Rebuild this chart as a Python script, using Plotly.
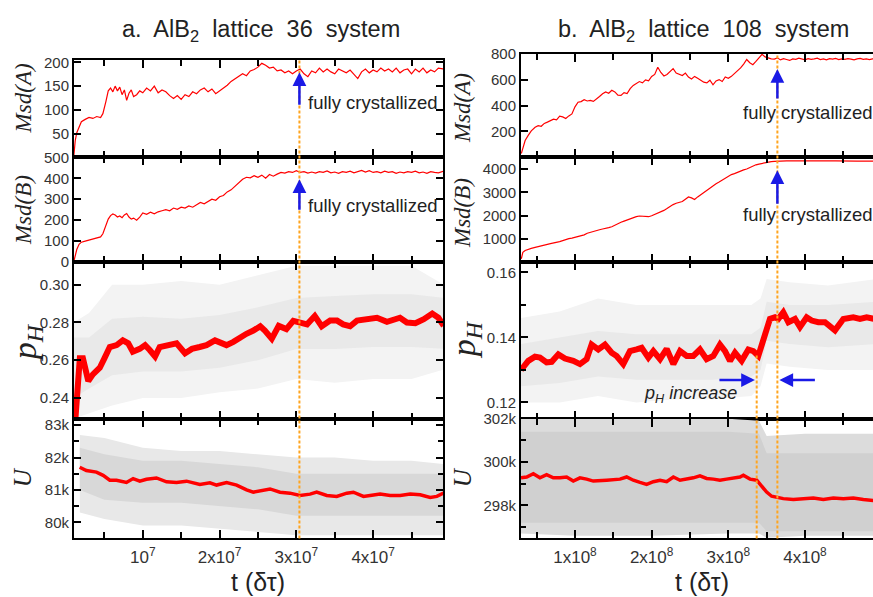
import plotly.graph_objects as go

W, H = 873, 597
SA = 1e7   # time unit of panel a
SB = 1e8   # time unit of panel b
KU = 1e3   # energies in k

# ---------------- panel a : AlB2 lattice 36 system ----------------
t_msd_a = [0.10,0.12,0.14,0.17,0.20,0.25,0.30,0.35,0.40,0.45,
           0.48,0.52,0.55,0.58,0.61,0.64,0.67,0.70,0.73,0.76,
           0.79,0.82,0.85,0.88,0.92,0.96,1.00,1.05,1.10,1.15,
           1.20,1.25,1.30,1.35,1.40,1.45,1.50,1.55,1.60,1.65,
           1.70,1.75,1.80,1.85,1.90,1.95,2.00,2.05,2.10,2.15,
           2.20,2.25,2.30,2.35,2.40,2.45,2.50,2.55,2.60,2.65,
           2.70,2.75,2.80,2.85,2.90,2.95,3.00,3.05,3.10,3.15,
           3.20,3.25,3.30,3.35,3.40,3.45,3.50,3.55,3.60,3.65,
           3.70,3.75,3.80,3.85,3.90,3.95,4.00,4.05,4.10,4.15,
           4.20,4.25,4.30,4.35,4.40,4.45,4.50,4.55,4.60,4.65,
           4.70,4.75,4.80,4.85,4.92]
msdA_a = [0,35,52,65,75,80,84,82,86,84,
          92,118,140,146,138,150,140,148,132,142,
          120,135,142,128,132,140,136,146,140,150,
          136,142,138,130,124,130,122,132,128,138,
          134,142,146,138,144,134,140,146,152,160,
          165,170,176,172,182,185,190,198,194,188,
          190,182,184,178,182,176,182,186,176,170,
          182,178,188,180,186,180,176,186,182,178,
          184,176,166,180,186,178,184,180,188,182,
          186,180,188,178,184,186,176,186,180,188,
          178,184,180,188,186]
msdB_a = [0,30,60,85,95,100,105,110,115,120,
          135,180,205,222,230,225,215,220,212,225,
          232,215,205,210,200,215,235,228,238,230,
          240,245,250,245,258,252,262,258,268,262,
          272,285,278,290,300,295,312,318,335,345,
          362,380,395,405,402,412,405,415,400,418,
          410,420,428,425,432,428,436,428,432,425,
          430,425,432,428,435,426,430,424,432,428,
          434,426,432,438,430,436,428,432,426,434,
          428,432,424,430,426,432,428,434,426,430,
          424,432,428,426,434]

t_ph_a = [0.11,0.18,0.22,0.29,0.35,0.44,0.50,0.57,0.66,0.74,
          0.81,0.87,0.96,1.03,1.09,1.16,1.22,1.31,1.44,1.55,
          1.64,1.74,1.83,1.94,2.00,2.09,2.18,2.27,2.35,2.44,
          2.53,2.59,2.68,2.77,2.87,2.96,3.05,3.14,3.24,3.33,
          3.44,3.53,3.61,3.70,3.79,3.92,4.05,4.18,4.35,4.44,
          4.55,4.66,4.77,4.85,4.92]
ph_a = [0.222,0.261,0.261,0.249,0.2525,0.256,0.261,0.267,0.268,0.2705,
        0.269,0.2645,0.266,0.268,0.2654,0.262,0.267,0.268,0.269,0.2637,
        0.266,0.267,0.268,0.2705,0.2697,0.268,0.2697,0.2722,0.274,0.2757,
        0.278,0.2757,0.2714,0.2782,0.2765,0.2809,0.2803,0.279,0.2834,0.278,
        0.281,0.281,0.279,0.278,0.281,0.2817,0.2825,0.2803,0.2825,0.280,
        0.2796,0.2817,0.2847,0.2825,0.2782]
t_phband_a = [0.10,0.30,0.60,1.00,1.50,2.00,2.50,3.00,3.50,4.00,4.50,4.92]
ph_a_out_hi = [0.280,0.285,0.300,0.300,0.302,0.300,0.305,0.310,0.310,0.310,0.310,0.300]
ph_a_out_lo = [0.229,0.232,0.236,0.240,0.240,0.243,0.245,0.250,0.248,0.250,0.250,0.255]
ph_a_in_hi = [0.272,0.272,0.282,0.283,0.282,0.284,0.288,0.293,0.294,0.295,0.295,0.293]
ph_a_in_lo = [0.240,0.245,0.252,0.254,0.254,0.256,0.260,0.266,0.266,0.267,0.267,0.266]

t_u_a = [0.178,0.265,0.396,0.483,0.570,0.657,0.787,0.874,0.961,1.048,
         1.178,1.309,1.439,1.570,1.743,1.874,1.961,2.091,2.222,2.352,
         2.439,2.570,2.657,2.787,2.917,3.048,3.178,3.265,3.396,3.526,
         3.657,3.743,3.874,3.961,4.091,4.222,4.352,4.483,4.613,4.743,
         4.830,4.917]
u_a = [81.70,81.60,81.55,81.45,81.30,81.30,81.23,81.35,81.27,81.33,
       81.37,81.25,81.23,81.27,81.17,81.22,81.15,81.23,81.15,81.00,
       80.93,81.00,81.03,80.93,80.90,80.83,80.87,80.93,80.83,80.80,
       80.90,80.93,80.80,80.83,80.87,80.83,80.83,80.87,80.85,80.77,
       80.80,80.90]
t_uband_a = [0.18,0.50,1.00,1.50,2.00,2.50,3.00,3.50,4.00,4.50,4.92]
u_a_out_hi = [82.7,82.6,82.3,82.2,82.2,82.1,82.0,82.0,81.9,81.9,81.8]
u_a_out_lo = [80.3,80.1,79.9,79.9,79.8,79.7,79.6,79.6,79.6,79.6,79.6]
u_a_in_hi = [82.3,82.1,81.9,81.9,81.8,81.7,81.5,81.5,81.5,81.5,81.5]
u_a_in_lo = [81.0,80.7,80.6,80.6,80.5,80.4,80.2,80.2,80.2,80.2,80.2]

t_cryst_a = 3.04

# ---------------- panel b : AlB2 lattice 108 system ----------------
t_msd_b = [0.30,0.32,0.35,0.39,0.43,0.48,0.52,0.56,0.60,0.64,
           0.68,0.72,0.76,0.80,0.84,0.88,0.92,0.96,1.00,1.04,
           1.08,1.12,1.16,1.20,1.24,1.28,1.32,1.36,1.40,1.44,
           1.48,1.52,1.56,1.60,1.64,1.68,1.72,1.76,1.80,1.84,
           1.88,1.92,1.96,2.00,2.04,2.08,2.12,2.16,2.20,2.24,
           2.28,2.32,2.36,2.40,2.44,2.48,2.52,2.56,2.60,2.64,
           2.68,2.72,2.76,2.80,2.84,2.88,2.92,2.96,3.00,3.04,
           3.08,3.12,3.16,3.20,3.24,3.28,3.32,3.36,3.40,3.44,
           3.48,3.52,3.56,3.60,3.64,3.68,3.72,3.76,3.80,3.84,
           3.88,3.92,3.96,4.00,4.04,4.08,4.12,4.16,4.20,4.24,
           4.28,4.32,4.36,4.40,4.44,4.48,4.52,4.56,4.60,4.64,
           4.68,4.72,4.76,4.80,4.84,4.88,4.92]
msdA_b = [30,80,130,170,205,232,245,240,262,272,
          285,295,290,318,312,300,320,335,390,425,
          430,445,435,440,432,455,470,490,505,495,
          518,505,480,478,500,492,530,555,570,585,
          575,598,590,625,640,695,655,628,640,665,
          685,650,640,632,650,620,605,625,610,598,
          580,575,595,560,590,600,585,620,610,625,
          645,670,690,720,755,730,715,740,770,795,
          775,765,760,758,768,752,762,755,748,760,
          756,765,758,752,762,756,760,765,755,760,
          752,762,758,764,755,760,756,762,758,752,
          760,764,756,760,755,760,758]
msdB_b = [140,420,500,558,590,630,655,690,720,760,
          790,810,850,880,920,970,1005,1030,1060,1100,
          1130,1170,1240,1285,1320,1360,1390,1420,1440,1480,
          1520,1590,1660,1710,1760,1810,1870,1910,1950,1980,
          1975,1960,1950,1990,2040,2090,2140,2220,2300,2400,
          2470,2530,2570,2600,2700,2800,2760,2690,2800,2900,
          3000,3100,3200,3300,3370,3440,3520,3620,3690,3760,
          3800,3860,3910,3960,4000,4070,4140,4180,4210,4240,
          4280,4300,4320,4330,4340,4350,4345,4350,4348,4352,
          4350,4345,4350,4348,4352,4346,4350,4345,4350,4348,
          4345,4350,4346,4350,4345,4348,4344,4346,4342,4345,
          4340,4344,4340,4342,4338,4340,4338]

t_ph_b = [0.296,0.391,0.478,0.543,0.630,0.696,0.783,0.870,0.978,1.065,
          1.152,1.217,1.304,1.391,1.478,1.543,1.630,1.717,1.804,1.870,
          1.957,2.022,2.109,2.196,2.283,2.370,2.457,2.543,2.630,2.717,
          2.804,2.891,2.957,3.022,3.087,3.174,3.261,3.326,3.391,3.457,
          3.543,3.609,3.652,3.717,3.783,3.870,3.935,4.022,4.087,4.174,
          4.261,4.391,4.500,4.630,4.717,4.804,4.887,4.950]
ph_b = [0.1300,0.1328,0.1341,0.1338,0.1323,0.1325,0.1348,0.1335,0.1328,0.1318,
        0.1333,0.1378,0.1363,0.1378,0.1353,0.1343,0.1318,0.1358,0.1363,0.1368,
        0.1338,0.1358,0.1333,0.1365,0.1318,0.1358,0.1343,0.1343,0.1363,0.1333,
        0.1343,0.1378,0.1358,0.1328,0.1353,0.1328,0.1363,0.1358,0.1343,0.1393,
        0.1457,0.1462,0.1457,0.1477,0.1447,0.1457,0.1432,0.1462,0.1452,0.1447,
        0.1447,0.1422,0.1457,0.1462,0.1457,0.1462,0.1457,0.1455]
t_phband_b = [0.296,0.80,1.30,1.80,2.30,2.80,3.30,3.42,3.50,3.80,4.30,4.95]
ph_b_out_hi = [0.146,0.148,0.152,0.150,0.150,0.150,0.150,0.152,0.158,0.157,0.156,0.158]
ph_b_out_lo = [0.120,0.120,0.122,0.120,0.121,0.121,0.122,0.125,0.132,0.131,0.130,0.130]
ph_b_in_hi = [0.138,0.140,0.142,0.141,0.141,0.141,0.141,0.143,0.151,0.150,0.150,0.151]
ph_b_in_lo = [0.125,0.126,0.128,0.127,0.127,0.127,0.128,0.130,0.139,0.138,0.137,0.138]

t_u_b = [0.296,0.370,0.457,0.543,0.630,0.717,0.804,0.891,0.978,1.065,
         1.152,1.239,1.413,1.587,1.674,1.761,1.848,1.935,2.022,2.109,
         2.196,2.283,2.370,2.457,2.543,2.630,2.717,2.804,2.891,2.978,
         3.065,3.152,3.196,3.283,3.370,3.435,3.500,3.565,3.630,3.717,
         3.848,3.978,4.109,4.239,4.370,4.500,4.630,4.761,4.887,4.950]
u_b = [299.27,299.31,299.46,299.27,299.42,299.27,299.27,299.31,299.12,299.27,
       299.21,299.12,299.16,299.21,299.31,299.16,299.06,298.97,299.09,299.16,
       299.09,299.31,299.16,299.21,299.27,299.36,299.24,299.21,299.16,299.21,
       299.24,299.31,299.39,299.21,299.16,298.87,298.61,298.42,298.37,298.31,
       298.27,298.31,298.34,298.27,298.34,298.31,298.34,298.27,298.22,298.25]
t_uband_b = [0.296,1.00,2.00,3.00,3.40,3.50,4.00,4.95]
u_b_out_hi = [302.0,302.0,302.0,302.0,301.9,301.2,301.3,301.3]
u_b_out_lo = [296.7,296.6,296.6,296.7,296.7,296.5,296.6,296.6]
u_b_in_hi = [301.4,301.4,301.4,301.4,301.3,300.4,300.4,300.4]
u_b_in_lo = [297.2,297.2,297.2,297.2,297.2,296.8,296.8,296.8]

t_cryst_b = 3.64
t_start_b = 3.37

# ---------------- figure ----------------
def py(p):
    return 1 - p / H

fig = go.Figure()
RED = "#ff0000"

def sc(lst, s):
    return [v * s for v in lst]

def band(t, lo, hi, ts, vs, ax, color):
    xs = sc(t, ts) + sc(t, ts)[::-1]
    ys = sc(hi, vs) + sc(lo, vs)[::-1]
    fig.add_trace(go.Scatter(x=xs, y=ys, fill="toself", fillcolor=color,
                             line=dict(width=0), mode="lines", hoverinfo="skip",
                             xaxis="x" + ax, yaxis="y" + ax, showlegend=False))

def line(t, v, ts, vs, ax, width):
    fig.add_trace(go.Scatter(x=sc(t, ts), y=sc(v, vs), mode="lines",
                             line=dict(color=RED, width=width), hoverinfo="skip",
                             xaxis="x" + ax, yaxis="y" + ax, showlegend=False))

# panel a
line(t_msd_a, msdA_a, SA, 1, "", 1.2)
line(t_msd_a, msdB_a, SA, 1, "2", 1.2)
band(t_phband_a, ph_a_out_lo, ph_a_out_hi, SA, 1, "3", "#f3f3f3")
band(t_phband_a, ph_a_in_lo, ph_a_in_hi, SA, 1, "3", "#e9e9e9")
line(t_ph_a, ph_a, SA, 1, "3", 6)
band(t_uband_a, u_a_out_lo, u_a_out_hi, SA, KU, "4", "#e8e8e8")
band(t_uband_a, u_a_in_lo, u_a_in_hi, SA, KU, "4", "#d8d8d8")
line(t_u_a, u_a, SA, KU, "4", 3.5)
# panel b
line(t_msd_b, msdA_b, SB, 1, "5", 1.2)
line(t_msd_b, msdB_b, SB, 1, "6", 1.2)
band(t_phband_b, ph_b_out_lo, ph_b_out_hi, SB, 1, "7", "#f3f3f3")
band(t_phband_b, ph_b_in_lo, ph_b_in_hi, SB, 1, "7", "#e9e9e9")
line(t_ph_b, ph_b, SB, 1, "7", 6)
band(t_uband_b, u_b_out_lo, u_b_out_hi, SB, KU, "8", "#dcdcdc")
band(t_uband_b, u_b_in_lo, u_b_in_hi, SB, KU, "8", "#d0d0d0")
line(t_u_b, u_b, SB, KU, "8", 3.5)

TICKFONT = dict(family="Liberation Sans, Arial, sans-serif", size=15, color="#333333")
XTICKFONT = dict(family="Liberation Sans, Arial, sans-serif", size=17, color="#333333")

left_x = [74 / W, 443 / W]
right_x = [521 / W, 1.0]
rows_l = [(53, 152.7), (152.7, 260.5), (260.5, 421.7), (421.7, 545)]
rows_r = [(46, 152.7), (152.7, 260.5), (260.5, 421.7), (421.7, 545)]

xr_a = [0.104 * SA, 4.91 * SA]
xr_b = [0.296 * SB, 4.887 * SB]
xt_a = dict(vals=[1e7, 2e7, 3e7, 4e7],
            text=["10<sup>7</sup>", "2x10<sup>7</sup>", "3x10<sup>7</sup>", "4x10<sup>7</sup>"],
            minor=[5e6, 1.5e7, 2.5e7, 3.5e7, 4.5e7])
xt_b = dict(vals=[1e8, 2e8, 3e8, 4e8],
            text=["1x10<sup>8</sup>", "2x10<sup>8</sup>", "3x10<sup>8</sup>", "4x10<sup>8</sup>"],
            minor=[0.5e8, 1.5e8, 2.5e8, 3.5e8, 4.5e8])

ycfg = {
    1: dict(r=[0, 204], v=[50, 100, 150, 200], t=["50", "100", "150", "200"], m=[]),
    2: dict(r=[0, 500], v=[0, 100, 200, 300, 400, 500], t=["0", "100", "200", "300", "400", "500"], m=[]),
    3: dict(r=[0.229, 0.312], v=[0.24, 0.26, 0.28, 0.30], t=["0.24", "0.26", "0.28", "0.30"], m=[]),
    4: dict(r=[79500, 83200], v=[80000, 81000, 82000, 83000], t=["80k", "81k", "82k", "83k"],
            m=[80500, 81500, 82500]),
    5: dict(r=[0, 800], v=[200, 400, 600, 800], t=["200", "400", "600", "800"], m=[]),
    6: dict(r=[0, 4500], v=[1000, 2000, 3000, 4000], t=["1000", "2000", "3000", "4000"], m=[]),
    7: dict(r=[0.115, 0.1632], v=[0.12, 0.14, 0.16], t=["0.12", "0.14", "0.16"], m=[0.13, 0.15]),
    8: dict(r=[296470, 302000], v=[298000, 300000, 302000], t=["298k", "300k", "302k"],
            m=[297000, 299000, 301000]),
}

for i in range(1, 9):
    left = i <= 4
    row = (i - 1) % 4
    top, bot = (rows_l if left else rows_r)[row]
    xt = xt_a if left else xt_b
    sfx = "" if i == 1 else str(i)
    xa = dict(domain=left_x if left else right_x, range=xr_a if left else xr_b,
              anchor="y" + sfx, showline=True, linecolor="black", linewidth=2,
              mirror="ticks", ticks="inside", ticklen=8, tickwidth=1.5, tickcolor="black",
              tickmode="array", tickvals=xt["vals"], ticktext=xt["text"],
              showticklabels=(row == 3), tickfont=XTICKFONT, showgrid=False, zeroline=False,
              ticklabelstandoff=2,
              minor=dict(ticks="inside", ticklen=6, tickwidth=1.5, tickcolor="black",
                         tickvals=xt["minor"], showgrid=False))
    yc = ycfg[i]
    ya = dict(domain=[py(bot), py(top)], range=yc["r"], anchor="x" + sfx,
              showline=True, linecolor="black", linewidth=2,
              mirror="ticks" if left else False, ticks="inside", ticklen=7, tickwidth=1.5,
              tickcolor="black", tickmode="array", tickvals=yc["v"], ticktext=yc["t"],
              tickfont=TICKFONT, showgrid=False, zeroline=False)
    if yc["m"]:
        ya["minor"] = dict(ticks="inside", ticklen=5, tickwidth=1.5, tickcolor="black",
                           tickvals=yc["m"], showgrid=False)
    fig.layout["xaxis" + sfx] = xa
    fig.layout["yaxis" + sfx] = ya

# orange "crystallized" markers
ORANGE = "#ffa520"
shapes = [
    dict(type="line", xref="x", yref="paper", x0=t_cryst_a * SA, x1=t_cryst_a * SA,
         y0=py(545), y1=py(53)),
    dict(type="line", xref="x5", yref="paper", x0=t_cryst_b * SB, x1=t_cryst_b * SB,
         y0=py(545), y1=py(46)),
    dict(type="line", xref="x5", yref="paper", x0=t_start_b * SB, x1=t_start_b * SB,
         y0=py(545), y1=py(355)),
]
for s in shapes:
    s.update(line=dict(color=ORANGE, width=2, dash="3px,2px"), layer="above")
fig.update_layout(shapes=shapes)

ann = []
SANS = "Liberation Sans, Arial, sans-serif"
SERIF = "Liberation Serif, Times New Roman, serif"
TXT = "#222222"
ann.append(dict(text="a.&nbsp; AlB<sub>2</sub>&nbsp; lattice&nbsp; 36&nbsp; system",
                x=261 / W, y=py(22), font=dict(family=SANS, size=23.5, color=TXT)))
ann.append(dict(text="b.&nbsp; AlB<sub>2</sub>&nbsp; lattice&nbsp; 108&nbsp; system",
                x=703 / W, y=py(22), font=dict(family=SANS, size=23.5, color=TXT)))
for xc in (258, 702):
    ann.append(dict(text="t (δτ)", x=xc / W, y=py(590),
                    font=dict(family=SANS, size=25, color=TXT)))
# y-axis titles
for xc, yc, txt, sz in [
    (23, 92, "<i>Msd(A)</i>", 23), (23, 207, "<i>Msd(B)</i>", 23),
    (27, 343, "<i>p<sub>H</sub></i>", 34), (22, 482, "<i>U</i>", 25),
    (462, 102, "<i>Msd(A)</i>", 23), (462, 210, "<i>Msd(B)</i>", 23),
    (466, 340, "<i>p<sub>H</sub></i>", 34), (462, 482, "<i>U</i>", 25)]:
    ann.append(dict(text=txt, x=xc / W, y=py(yc), textangle=-90,
                    font=dict(family=SERIF, size=sz, color=TXT)))
# "fully crystallized" labels
for xl, yc in [(306, 96), (306, 202), (741, 107), (741, 212)]:
    ann.append(dict(text="fully crystallized", x=xl / W, y=py(yc), xanchor="left",
                    font=dict(family=SANS, size=18.5, color=TXT)))
ann.append(dict(text="<i>p<sub>H</sub> increase</i>", x=690 / W, y=py(397),
                font=dict(family=SANS, size=18, color=TXT)))
for a in ann:
    a.update(xref="paper", yref="paper", showarrow=False)
    a.setdefault("xanchor", "center")
    a.setdefault("yanchor", "middle")

BLUE = "#1a1ae6"
arrows = [
    dict(xref="x", yref="y", x=t_cryst_a * SA, y=179, ax=0, ay=34),
    dict(xref="x2", yref="y2", x=t_cryst_a * SA, y=396, ax=0, ay=32),
    dict(xref="x5", yref="y5", x=t_cryst_b * SB, y=682, ax=0, ay=31),
    dict(xref="x6", yref="y6", x=t_cryst_b * SB, y=3941, ax=0, ay=35),
    dict(xref="x7", yref="y7", x=3.347 * SB, y=0.1269, ax=-37, ay=0),
    dict(xref="x7", yref="y7", x=3.666 * SB, y=0.1269, ax=37, ay=0),
]
for a in arrows:
    a.update(text="", showarrow=True, arrowhead=2, arrowsize=1.1, arrowwidth=2.5,
             arrowcolor=BLUE)
fig.update_layout(annotations=ann + arrows)

fig.update_layout(width=W, height=H, margin=dict(l=0, r=0, t=0, b=0),
                  paper_bgcolor="white", plot_bgcolor="white", showlegend=False)
fig.write_html("out.html")
